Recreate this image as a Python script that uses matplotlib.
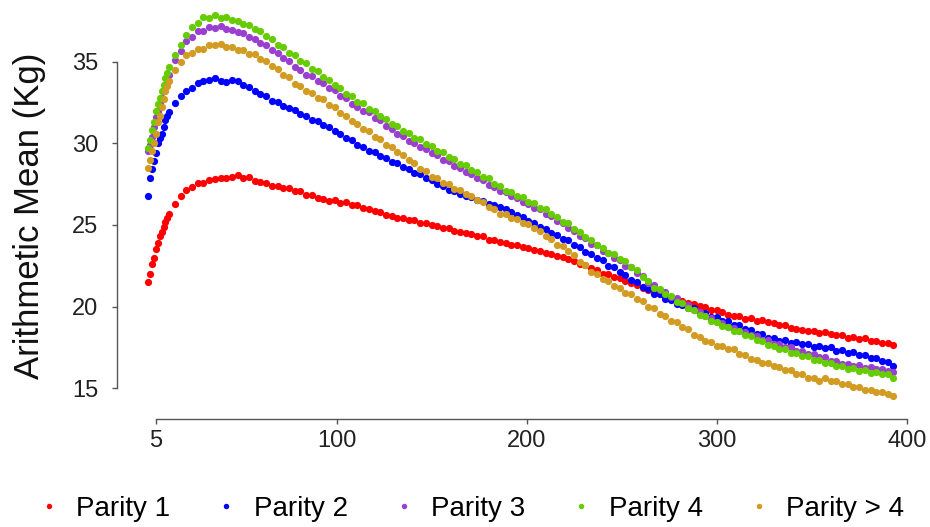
import matplotlib
matplotlib.use("Agg")
import matplotlib.pyplot as plt

plt.rcParams['font.family'] = ['Liberation Sans', 'DejaVu Sans']

# days in milk: daily at the start, then every third day
days = list(range(1, 13)) + list(range(15, 394, 3))

parity1 = [21.5, 22.0, 22.6, 23.0, 23.5, 23.9, 24.3, 24.6, 24.9, 25.2, 25.4, 25.65,
           26.3, 26.75, 27.15, 27.3, 27.55, 27.6, 27.75, 27.8, 27.9, 27.85,
           27.95, 28.05, 27.9, 27.95, 27.7, 27.65, 27.55, 27.4, 27.4, 27.25,
           27.25, 27.1, 27.05, 26.85, 26.85, 26.65, 26.6, 26.45, 26.5, 26.35,
           26.4, 26.2, 26.2, 26.05, 26.0, 25.85, 25.8, 25.6, 25.55, 25.4,
           25.45, 25.3, 25.3, 25.15, 25.1, 25.0, 24.95, 24.8, 24.8, 24.65,
           24.6, 24.5, 24.45, 24.3, 24.3, 24.1, 24.05, 23.95, 23.9, 23.75,
           23.8, 23.65, 23.6, 23.45, 23.4, 23.3, 23.25, 23.1, 23.05, 22.9,
           22.8, 22.6, 22.55, 22.35, 22.25, 22.0, 22.0, 21.8, 21.75, 21.55,
           21.45, 21.3, 21.15, 21.0, 20.9, 20.75, 20.65, 20.5, 20.4, 20.35,
           20.2, 20.15, 20.05, 19.95, 19.8, 19.8, 19.65, 19.5, 19.4, 19.4,
           19.25, 19.3, 19.15, 19.2, 19.05, 19.0, 18.9, 18.85, 18.7, 18.65,
           18.55, 18.5, 18.5, 18.4, 18.45, 18.3, 18.25, 18.25, 18.1, 18.15,
           18.0, 18.05, 17.9, 17.9, 17.8, 17.75, 17.65]

parity2 = [26.8, 27.9, 28.4, 28.9, 29.4, 30.0, 30.3, 30.6, 31.0, 31.4, 31.7, 31.9,
           32.45, 32.9, 33.2, 33.4, 33.7, 33.8, 33.85, 34.0, 33.8, 33.75,
           33.9, 33.8, 33.55, 33.45, 33.2, 33.05, 32.9, 32.6, 32.5, 32.3,
           32.15, 32.05, 31.8, 31.7, 31.45, 31.35, 31.1, 31.0, 30.75, 30.6,
           30.35, 30.2, 29.9, 29.8, 29.55, 29.45, 29.2, 29.1, 28.85, 28.8,
           28.55, 28.45, 28.2, 28.1, 27.85, 27.75, 27.5, 27.4, 27.15, 27.1,
           26.9, 26.75, 26.7, 26.5, 26.45, 26.3, 26.25, 26.1, 26.0, 25.8,
           25.6, 25.5, 25.25, 25.1, 24.85, 24.75, 24.5, 24.4, 24.15, 24.05,
           23.8, 23.65, 23.35, 23.25, 22.95, 22.85, 22.5, 22.4, 22.1, 21.95,
           21.65, 21.5, 21.2, 21.1, 20.8, 20.75, 20.45, 20.4, 20.15, 20.1,
           19.9, 19.9, 19.65, 19.6, 19.35, 19.35, 19.1, 19.1, 18.9, 18.85,
           18.6, 18.55, 18.35, 18.3, 18.1, 18.1, 17.9, 17.95, 17.8, 17.85,
           17.7, 17.7, 17.55, 17.6, 17.45, 17.5, 17.3, 17.35, 17.15, 17.2,
           17.05, 17.05, 16.85, 16.85, 16.65, 16.6, 16.35]

parity3 = [29.5, 29.9, 30.4, 31.0, 31.6, 32.0, 32.4, 32.8, 33.2, 33.6, 33.9, 34.2,
           35.1, 35.65, 36.25, 36.5, 36.85, 36.9, 37.1, 37.05, 37.2, 37.0,
           36.95, 36.8, 36.75, 36.5, 36.4, 36.15, 36.05, 35.7, 35.55, 35.2,
           35.05, 34.7, 34.5, 34.2, 34.1, 33.8, 33.7, 33.4, 33.25, 32.9,
           32.75, 32.4, 32.25, 32.0, 31.9, 31.55, 31.4, 31.05, 30.9, 30.55,
           30.45, 30.15, 30.05, 29.75, 29.65, 29.4, 29.3, 29.0, 28.9, 28.6,
           28.5, 28.25, 28.15, 27.85, 27.75, 27.45, 27.35, 27.1, 27.0, 26.75,
           26.65, 26.4, 26.3, 26.05, 25.95, 25.65, 25.55, 25.25, 25.1, 24.8,
           24.65, 24.3, 24.2, 23.85, 23.75, 23.4, 23.3, 22.95, 22.85, 22.5,
           22.4, 22.05, 21.85, 21.45, 21.3, 21.0, 20.9, 20.6, 20.5, 20.2,
           20.1, 19.8, 19.7, 19.4, 19.3, 19.05, 19.0, 18.75, 18.7, 18.5,
           18.45, 18.25, 18.2, 17.95, 17.95, 17.7, 17.7, 17.5, 17.5, 17.3,
           17.3, 17.1, 17.1, 16.9, 16.9, 16.7, 16.7, 16.5, 16.5, 16.35,
           16.4, 16.25, 16.3, 16.15, 16.2, 16.05, 16.0]

parity4 = [29.7, 30.2, 30.8, 31.3, 32.0, 32.4, 32.8, 33.2, 33.6, 34.0, 34.3, 34.7,
           35.4, 36.05, 36.65, 37.15, 37.35, 37.75, 37.7, 37.85, 37.7, 37.75,
           37.55, 37.5, 37.3, 37.25, 37.0, 36.9, 36.55, 36.4, 36.05, 35.9,
           35.55, 35.4, 35.05, 34.9, 34.55, 34.4, 34.05, 33.9, 33.55, 33.4,
           33.05, 32.9, 32.55, 32.45, 32.1, 32.0, 31.65, 31.5, 31.2, 31.05,
           30.75, 30.65, 30.35, 30.25, 29.95, 29.85, 29.55, 29.45, 29.15, 29.05,
           28.75, 28.65, 28.35, 28.25, 27.95, 27.85, 27.5, 27.4, 27.1, 27.0,
           26.75, 26.7, 26.4, 26.35, 26.05, 25.95, 25.65, 25.5, 25.2, 25.1,
           24.75, 24.55, 24.25, 24.1, 23.75, 23.6, 23.3, 23.2, 22.9, 22.8,
           22.45, 22.25, 21.8, 21.55, 21.15, 21.05, 20.75, 20.65, 20.3, 20.2,
           19.9, 19.8, 19.5, 19.4, 19.1, 19.05, 18.8, 18.75, 18.5, 18.5,
           18.25, 18.2, 17.95, 17.9, 17.65, 17.6, 17.4, 17.4, 17.15, 17.15,
           16.95, 16.95, 16.75, 16.75, 16.55, 16.55, 16.35, 16.35, 16.2, 16.25,
           16.05, 16.1, 15.95, 16.0, 15.85, 15.85, 15.65]

parity5 = [28.5, 29.0, 29.5, 30.0, 30.6, 31.3, 31.7, 32.2, 32.7, 33.2, 33.5, 33.8,
           34.5, 35.0, 35.4, 35.55, 35.8, 35.8, 36.05, 36.05, 36.1, 35.9,
           35.9, 35.7, 35.7, 35.45, 35.45, 35.15, 35.05, 34.75, 34.55, 34.2,
           34.05, 33.65, 33.5, 33.2, 33.1, 32.8, 32.7, 32.35, 32.25, 31.85,
           31.7, 31.35, 31.2, 30.9, 30.75, 30.4, 30.25, 29.9, 29.75, 29.45,
           29.3, 28.95, 28.8, 28.45, 28.3, 27.95, 27.85, 27.55, 27.5, 27.2,
           27.15, 26.9, 26.8, 26.5, 26.4, 26.1, 26.0, 25.7, 25.65, 25.4,
           25.35, 25.1, 25.05, 24.8, 24.65, 24.3, 24.15, 23.8, 23.7, 23.4,
           23.15, 22.75, 22.55, 22.15, 22.0, 21.7, 21.55, 21.25, 21.15, 20.85,
           20.75, 20.45, 20.35, 20.0, 19.9, 19.55, 19.45, 19.15, 19.05, 18.75,
           18.6, 18.25, 18.15, 17.9, 17.85, 17.6, 17.6, 17.4, 17.4, 17.1,
           17.05, 16.8, 16.75, 16.55, 16.55, 16.35, 16.3, 16.1, 16.1, 15.9,
           15.9, 15.65, 15.6, 15.45, 15.6, 15.45, 15.45, 15.25, 15.25, 15.05,
           15.05, 14.9, 14.9, 14.75, 14.8, 14.65, 14.5]

series = [parity1, parity2, parity3, parity4, parity5]
labels = ["Parity 1", "Parity 2", "Parity 3", "Parity 4", "Parity > 4"]
colors = ["#FF0000", "#0000FF", "#9B3FD0", "#66CC00", "#D29B22"]

x_ticks = [5, 100, 200, 300, 400]
y_ticks = [15, 20, 25, 30, 35]

fig = plt.figure(figsize=(9.3, 5.27), dpi=100)
ax = fig.add_axes([117 / 930, 1 - 419.3 / 527, (920 - 117) / 930, (419.3 - 5) / 527])

handles = []
for vals, lab, col in zip(series, labels, colors):
    h, = ax.plot(days, vals, linestyle='none', marker='o', markersize=5.2,
                 markeredgewidth=0, color=col, label=lab)
    handles.append(h)

ax.set_xlim(-15.5, 407.0)
ax.set_ylim(13.10, 38.47)

for side in ['top', 'right']:
    ax.spines[side].set_visible(False)
ax.spines['left'].set_bounds(15, 35)
ax.spines['bottom'].set_bounds(5, 400)
for side in ['left', 'bottom']:
    ax.spines[side].set_color('#555555')
    ax.spines[side].set_linewidth(1.0)

ax.set_xticks(x_ticks)
ax.set_yticks(y_ticks)
ax.tick_params(axis='both', direction='out', length=3.6, width=1.0,
               color='#555555', labelcolor='#222222', labelsize=17)
ax.tick_params(axis='y', pad=10)
ax.tick_params(axis='x', pad=4)

fig.text(30 / 930, 1 - 216 / 527, "Arithmetic Mean (Kg)", rotation=90,
         ha='center', va='center', fontsize=25, color='#111111')

fig.legend(handles, labels, loc='center', ncol=5, frameon=False,
           bbox_to_anchor=(471 / 930, 1 - 508.5 / 527), borderaxespad=0,
           fontsize=20, handlelength=0.8, handletextpad=0.58,
           columnspacing=1.62, markerscale=0.75)

fig.savefig("out.png", dpi=100)
